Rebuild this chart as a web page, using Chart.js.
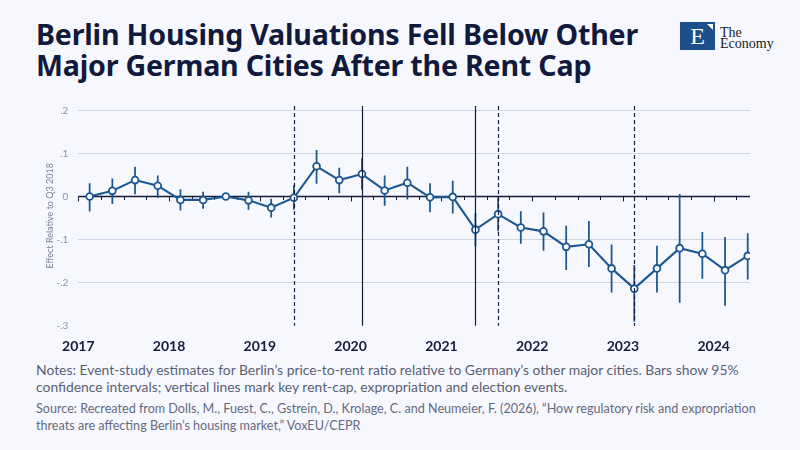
<!DOCTYPE html>
<html>
<head>
<meta charset="utf-8">
<script src="https://cdn.jsdelivr.net/npm/chart.js@4.4.1/dist/chart.umd.min.js"></script>
<style>
  html, body { margin: 0; padding: 0; }
  body { width: 800px; height: 450px; background: #f7f8fd; position: relative; overflow: hidden; font-family: Lato, "Noto Sans", sans-serif; }
  #title { position: absolute; left: 36px; top: 18px; font-family: "Noto Sans", sans-serif; font-size: 28.6px; line-height: 31px; font-weight: 700; color: #111a3d; letter-spacing: -0.2px; }
  #logo { position: absolute; left: 680px; top: 22px; width: 35px; height: 28px; background: #1d4f8c; }
  #logo .e { position: absolute; left: 0; top: 0; width: 35px; text-align: center; font-family: "Liberation Serif", "DejaVu Serif", serif; color: #fff; font-size: 24px; line-height: 29px; }
  #logo .flag { position: absolute; right: 2px; top: 2px; width: 0; height: 0; border-left: 6px solid transparent; border-top: 6px solid #fff; }
  #logoText { position: absolute; left: 720px; top: 27px; font-family: "Liberation Serif", "DejaVu Serif", serif; color: #222; font-size: 14px; line-height: 11px; }
  #chartWrap { position: absolute; left: 0; top: 90px; width: 800px; height: 270px; }
  #notes { position: absolute; left: 36px; top: 362px; font-size: 13.9px; line-height: 16.5px; color: #596075; }
  #source { position: absolute; left: 36px; top: 400px; font-size: 12.6px; line-height: 17px; color: #646a80; }
</style>
</head>
<body>
<div id="title">Berlin Housing Valuations Fell Below Other<br>Major German Cities After the Rent Cap</div>
<div id="logo"><div class="e">E</div><div class="flag"></div></div>
<div id="logoText">The<br>Economy</div>
<div id="chartWrap"><canvas id="chart" width="800" height="270"></canvas></div>
<div id="notes">Notes: Event-study estimates for Berlin’s price-to-rent ratio relative to Germany’s other major cities. Bars show 95%<br>confidence intervals; vertical lines mark key rent-cap, expropriation and election events.</div>
<div id="source">Source: Recreated from Dolls, M., Fuest, C., Gstrein, D., Krolage, C. and Neumeier, F. (2026), “How regulatory risk and expropriation<br>threats are affecting Berlin’s housing market,” VoxEU/CEPR</div>
<script>
// quarters 2017Q1 .. 2024Q2, estimate relative to 2018Q3
const quarters = ['2017Q1','2017Q2','2017Q3','2017Q4','2018Q1','2018Q2','2018Q3','2018Q4',
                  '2019Q1','2019Q2','2019Q3','2019Q4','2020Q1','2020Q2','2020Q3','2020Q4',
                  '2021Q1','2021Q2','2021Q3','2021Q4','2022Q1','2022Q2','2022Q3','2022Q4',
                  '2023Q1','2023Q2','2023Q3','2023Q4','2024Q1','2024Q2'];
const effect = [0, 0.013, 0.038, 0.025, -0.008, -0.008, 0, -0.009, -0.026, -0.003,
                0.07, 0.038, 0.052, 0.014, 0.032, -0.002, -0.001, -0.077, -0.041, -0.072,
                -0.081, -0.117, -0.111, -0.167, -0.214, -0.167, -0.12, -0.133, -0.171, -0.138];
const ciLow = [-0.034, -0.017, 0.006, -0.002, -0.032, -0.028, null, -0.03, -0.048, -0.03,
               0.03, 0.008, 0.017, -0.021, -0.006, -0.036, -0.039, -0.115, -0.08, -0.109,
               -0.125, -0.17, -0.163, -0.222, -0.29, -0.222, -0.246, -0.19, -0.253, -0.192];
const ciHigh = [0.03, 0.041, 0.068, 0.048, 0.016, 0.01, null, 0.01, -0.006, 0.025,
                0.107, 0.066, 0.088, 0.048, 0.068, 0.03, 0.036, -0.04, -0.003, -0.035,
                -0.038, -0.069, -0.058, -0.112, -0.16, -0.115, 0.005, -0.083, -0.095, -0.086];
const years = ['2017','2018','2019','2020','2021','2022','2023','2024'];
const yTicks = [0.2, 0.1, 0, -0.1, -0.2, -0.3];
// event lines (quarter index), dashed or solid
const eventQuarters = ['2019Q2', '2020Q1', '2021Q2', '2021Q3', '2023Q1'];
const eventDashed = [true, false, false, true, true];

const lineColor = '#1b5791';
const navy = '#141a3c';

// reference quarter has no interval, so it is left out
const ciData = [];
quarters.forEach((q, i) => {
  if (ciLow[i] !== null) ciData.push({ x: i, y: [ciLow[i], ciHigh[i]] });
});
const pointData = quarters.map((q, i) => ({ x: i, y: effect[i] }));

function fmtTick(v) {
  if (Math.abs(v) < 1e-9) return '0';
  return v.toFixed(1).replace('0.', '.');
}

// zero line with quarter ticks, under the data
const zeroLine = {
  id: 'zeroLine',
  beforeDatasetsDraw(chart) {
    const { ctx, chartArea, scales } = chart;
    const y0 = Math.round(scales.y.getPixelForValue(0)) + 0.5;
    ctx.save();
    ctx.strokeStyle = navy;
    ctx.lineWidth = 1.3;
    ctx.beginPath();
    ctx.moveTo(chartArea.left, y0);
    ctx.lineTo(chartArea.right, y0);
    ctx.stroke();
    ctx.lineWidth = 1;
    for (let q = 0; q < quarters.length; q++) {
      const x = Math.round(scales.x.getPixelForValue(q - 0.5)) + 0.5;
      ctx.beginPath();
      ctx.moveTo(x, y0);
      ctx.lineTo(x, y0 + (q % 4 === 0 ? 5 : 3.5));
      ctx.stroke();
    }
    ctx.restore();
  }
};

// event lines on top
const eventLines = {
  id: 'eventLines',
  afterDatasetsDraw(chart) {
    const { ctx, chartArea, scales } = chart;
    ctx.save();
    ctx.strokeStyle = navy;
    ctx.lineWidth = 1.2;
    eventQuarters.forEach((q, k) => {
      const x = Math.round(scales.x.getPixelForValue(quarters.indexOf(q))) + 0.5;
      ctx.setLineDash(eventDashed[k] ? [4, 3] : []);
      ctx.beginPath();
      ctx.moveTo(x, chartArea.top);
      ctx.lineTo(x, chartArea.bottom);
      ctx.stroke();
    });
    ctx.restore();
  }
};

new Chart(document.getElementById('chart'), {
  data: {
    datasets: [
      {
        type: 'line',
        label: 'Effect',
        data: pointData,
        borderColor: lineColor,
        borderWidth: 2.1,
        pointRadius: 3.4,
        pointBorderWidth: 1.8,
        pointBackgroundColor: '#ffffff',
        pointBorderColor: lineColor,
        tension: 0,
        order: 1
      },
      {
        type: 'bar',
        label: '95% CI',
        data: ciData,
        backgroundColor: lineColor,
        barThickness: 1.1,
        order: 2
      }
    ]
  },
  options: {
    responsive: false,
    animation: false,
    layout: { padding: { top: 10, right: 50, left: 0, bottom: 0 } },
    plugins: { legend: { display: false }, tooltip: { enabled: false } },
    scales: {
      x: {
        type: 'linear',
        offset: false,
        min: -0.5,
        max: 29.1,
        grid: { display: false, offset: false },
        border: { display: false },
        afterBuildTicks(scale) {
          scale.ticks = years.map((y, k) => ({ value: k * 4 - 0.5 }));
        },
        ticks: {
          padding: 4,
          color: navy,
          font: { family: 'Lato', size: 14, weight: 'bold' },
          callback: (v) => years[Math.round((v + 0.5) / 4)]
        },
        afterFit(scale) { scale.height = 34.3; }
      },
      y: {
        min: -0.3,
        max: 0.21,
        grid: {
          color: (c) => (Math.abs(c.tick.value) < 1e-9 || c.tick.value < -0.25) ? 'rgba(0,0,0,0)' : '#cdd6e6',
          lineWidth: 1,
          drawTicks: false
        },
        border: { display: false },
        afterBuildTicks(scale) {
          scale.ticks = yTicks.map(v => ({ value: v }));
        },
        ticks: {
          padding: 10,
          color: '#8a92a8',
          font: { family: 'Lato', size: 10 },
          callback: (v) => fmtTick(v)
        },
        title: {
          display: true,
          text: 'Effect Relative to Q3 2018',
          color: '#7a8299',
          font: { family: 'Lato', size: 9 },
          padding: { top: 45, bottom: 0 }
        },
        afterFit(scale) { scale.width = 78.3; }
      }
    }
  },
  plugins: [zeroLine, eventLines]
});
</script>
</body>
</html>
